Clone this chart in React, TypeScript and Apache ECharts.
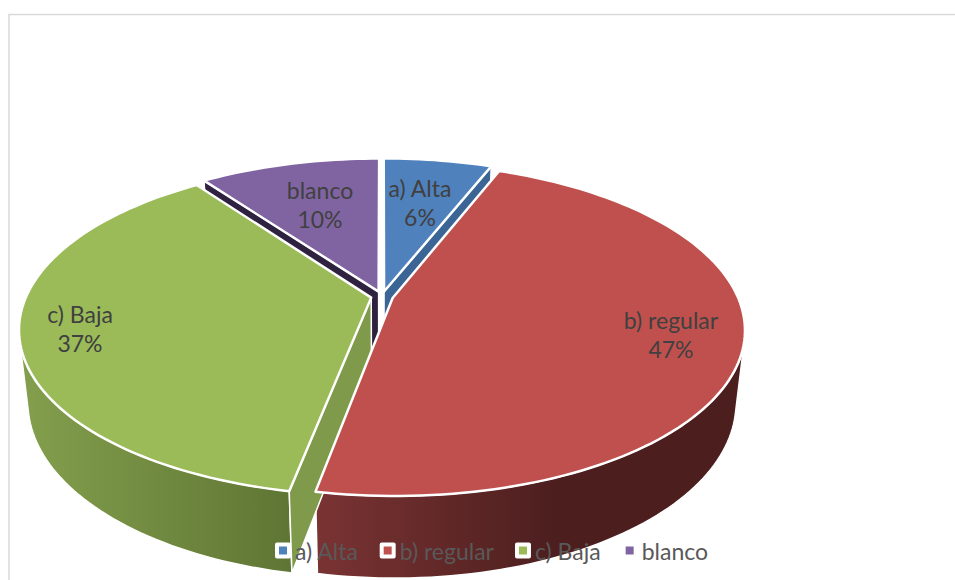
import React, { useEffect, useRef } from "react";
import * as echarts from "echarts";

const CATEGORIES = ["a) Alta", "b) regular", "c) Baja", "blanco"];
const VALUES = [6, 47, 37, 10];
const TOP_COLORS = ["#4f81bd", "#c0504d", "#9bbb59", "#8064a2"];
const CUT_COLORS = ["#3a6595", "#7a3232", "#7f9a4a", "#2e2240"];
const WALL_STOPS = [
  ["#3a6595", "#3a6595"],
  ["#7a3333", "#4c1e1e"],
  ["#829e4c", "#5f7534"],
  ["#2e2240", "#2e2240"],
];
const WALL_RANGE = [[380, 500], [317, 560], [30, 292], [200, 380]];
const LABEL_POS = [[420, 202], [671, 334], [80, 328], [320, 204]];
const DRAW_ORDER = [3, 0, 2, 1];

const CX = 382;
const CY = 296.5;
const A = 160;
const B = 345;
const K = 0.189;
const EXPLODE = 0.032;
// Perspective of the extrusion: vertical edges converge on a point far below the chart.
const HORIZON = CY - A / K;
const R = 0.9;
const MV = 0.00026;
const VANISH_Y = HORIZON + 1 / MV;
const TOTAL = VALUES.reduce((p, c) => p + c, 0);

function project(X: number, Y: number): number[] {
  const d = 1 - K * Y;
  return [CX + (B * X) / d, CY + (A * Y) / d];
}

function drop(p: number[]): number[] {
  const w = p[1] - HORIZON;
  const m = MV + R * (1 / w - MV);
  const w2 = 1 / m;
  return [CX + (R * (p[0] - CX) * w2) / w, HORIZON + w2];
}

function sliceChildren(i: number) {
  let before = 0;
  for (let j = 0; j < i; j++) before += VALUES[j];
  const t0 = (before / TOTAL) * Math.PI * 2;
  const t1 = ((before + VALUES[i]) / TOTAL) * Math.PI * 2;
  const mid = (t0 + t1) / 2;
  const ox = EXPLODE * Math.sin(mid);
  const oy = -EXPLODE * Math.cos(mid);
  const n = Math.max(2, Math.round((t1 - t0) / 0.025));
  const topArc: number[][] = [];
  for (let k = 0; k <= n; k++) {
    const t = t0 + ((t1 - t0) * k) / n;
    topArc.push(project(ox + Math.sin(t), oy - Math.cos(t)));
  }
  const botArc = topArc.map(drop);
  const apexT = project(ox, oy);
  const apexB = drop(apexT);
  const edge = { stroke: "#fff", lineJoin: "round" };
  const poly = (points: number[][], fill: any, z2: number, lineWidth = 2) => ({
    type: "polygon",
    z2,
    shape: { points },
    style: { ...edge, lineWidth, fill },
  });
  const wallFill = {
    type: "linear",
    global: true,
    x: WALL_RANGE[i][0],
    y: 0,
    x2: WALL_RANGE[i][1],
    y2: 0,
    colorStops: [
      { offset: 0, color: WALL_STOPS[i][0] },
      { offset: 1, color: WALL_STOPS[i][1] },
    ],
  };
  const children: any[] = [];
  // keep only the part of the outer wall that faces the viewer
  let first = -1;
  let last = -1;
  for (let k = 0; k < n; k++) {
    const a = topArc[k];
    const b = topArc[k + 1];
    const cross = (b[0] - a[0]) * (VANISH_Y - a[1]) - (b[1] - a[1]) * (CX - a[0]);
    if (cross < 0) {
      if (first < 0) first = k;
      last = k + 1;
    }
  }
  if (first >= 0) {
    const wallTop = topArc.slice(first, last + 1);
    const wallBot = botArc.slice(first, last + 1).reverse();
    children.push(poly([...wallTop, ...wallBot], wallFill, 1, 1.5));
  }
  if (Math.sin(t0) < -1e-6) {
    children.push(poly([apexT, topArc[0], botArc[0], apexB], CUT_COLORS[i], 2, 1.5));
  }
  if (Math.sin(t1) > 1e-6) {
    children.push(poly([apexT, topArc[n], botArc[n], apexB], CUT_COLORS[i], 2, 1.5));
  }
  children.push(poly([apexT, ...topArc], TOP_COLORS[i], 3, 2.5));
  children.push({
    type: "text",
    z2: 4,
    x: LABEL_POS[i][0],
    y: LABEL_POS[i][1],
    style: {
      text: `${CATEGORIES[i]}\n${VALUES[i]}%`,
      fill: "#404040",
      font: "23px Lato",
      lineHeight: 29,
      align: "center",
      verticalAlign: "middle",
    },
  });
  return children;
}

export default function App() {
  const ref = useRef<HTMLDivElement>(null);
  useEffect(() => {
    document.body.style.margin = "0";
    const chart = echarts.init(ref.current!, null, { renderer: "svg" });
    chart.setOption({
      animation: false,
      backgroundColor: "#fff",
      graphic: [
        {
          type: "polyline",
          z: -1,
          shape: { points: [[9, 580], [9, 14.5], [955, 14.5]] },
          style: { stroke: "#d9d9d9", lineWidth: 1.5, fill: "none" },
        },
      ],
      legend: {
        left: 275,
        top: 539,
        data: CATEGORIES,
        icon: "rect",
        itemWidth: 12,
        itemHeight: 12,
        itemGap: 21,
        padding: 0,
        itemStyle: { borderColor: "#fff", borderWidth: 4, borderJoin: "round" },
        textStyle: { color: "#595959", fontSize: 23, fontFamily: "Lato", padding: [0, 0, 0, 1] },
      },
      series: DRAW_ORDER.map((i) => ({
        type: "custom",
        name: CATEGORIES[i],
        coordinateSystem: "none",
        silent: true,
        clip: false,
        itemStyle: { color: TOP_COLORS[i] },
        data: [[VALUES[i]]],
        renderItem: () => ({ type: "group", children: sliceChildren(i) }),
      })),
    });
    return () => chart.dispose();
  }, []);
  return <div ref={ref} style={{ width: 955, height: 580 }} />;
}
